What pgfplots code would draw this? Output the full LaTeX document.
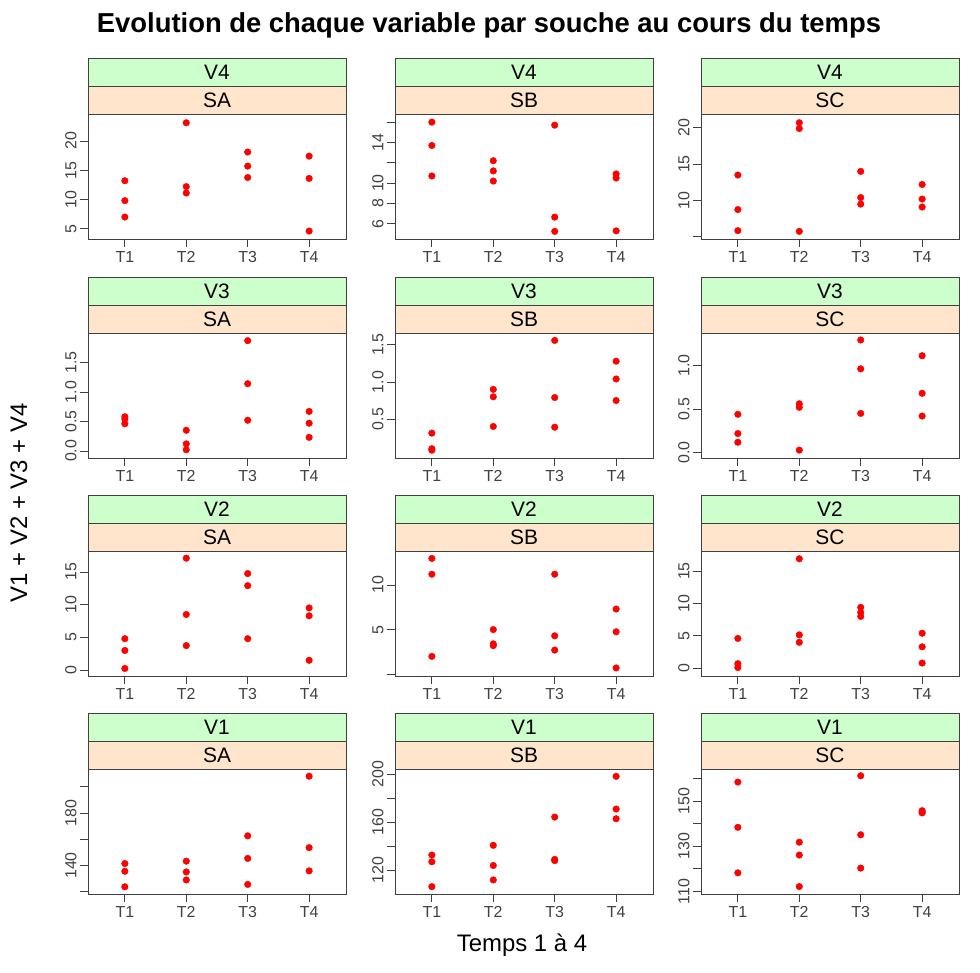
\documentclass[border=0pt]{standalone}
\usepackage{fontspec}
\setmainfont{Liberation Sans}
\usepackage{pgfplots}
\pgfplotsset{compat=1.18}
\definecolor{stripA}{HTML}{CCFFCC}
\definecolor{stripB}{HTML}{FFE5CC}
\definecolor{frame}{HTML}{404040}
\pgfplotsset{pan/.style={
  scale only axis, width=258bp, height=125bp, anchor=south west,
  xmin=0.4, xmax=4.6, xtick={1,2,3,4}, xticklabels={T1,T2,T3,T4},
  tick align=outside, xtick pos=bottom, ytick pos=left,
  major tick length=8bp,
  axis line style={frame, line width=0.8bp},
  every tick/.style={frame, line width=0.8bp},
  ticklabel style={font=\fontsize{16}{16}\selectfont, text=black!75},
  xticklabel style={yshift=-1bp},
  yticklabel style={rotate=90, anchor=south},
  /pgf/number format/assume math mode=true,
  clip=false,
}}
\pgfplotsset{pts/.style={only marks, mark=*, mark size=3.3bp, color=red, mark options={fill=red, draw=red}}}
\newcommand{\strips}[4]{%
  \draw[frame, line width=0.8bp, fill=stripB] (#1bp,#2bp) rectangle ++(258bp,28bp);
  \draw[frame, line width=0.8bp, fill=stripA] (#1bp,#2bp) ++(0,28bp) rectangle ++(258bp,28bp);
  \node[font=\fontsize{21}{21}\selectfont, inner sep=0pt] at (#1bp+129bp,#2bp+14bp) {#4};
  \node[font=\fontsize{21}{21}\selectfont, inner sep=0pt] at (#1bp+129bp,#2bp+42bp) {#3};
}
\begin{document}
\begin{tikzpicture}
\path[use as bounding box] (0,0) rectangle (980bp,973bp);
% Title and labels
\node[font=\fontsize{27.5}{27.5}\selectfont\bfseries] at (489bp,948bp) {Evolution de chaque variable par souche au cours du temps};
\node[font=\fontsize{24}{24}\selectfont] at (522bp,28bp) {Temps 1 à 4};
\node[font=\fontsize{24}{24}\selectfont, rotate=90] at (19bp,470bp) {V1 + V2 + V3 + V4};

% ---------- Row 1: V4 ----------
\begin{axis}[pan, at={(88bp,734bp)}, ymin=3.25, ymax=24.6, ytick={5,10,15,20}, yticklabels={5,10,15,20}]
\addplot[pts] coordinates {(1,13.2)(1,9.8)(1,7.0)(2,23.1)(2,12.2)(2,11.1)(3,18.1)(3,15.7)(3,13.75)(4,17.4)(4,13.6)(4,4.6)};
\end{axis}
\strips{88}{859}{V4}{SA}
\begin{axis}[pan, at={(395bp,734bp)}, ymin=4.5, ymax=16.8, ytick={6,8,10,12,14,16}, yticklabels={6,8,10,,14,}]
\addplot[pts] coordinates {(1,16.0)(1,13.7)(1,10.7)(2,12.2)(2,11.2)(2,10.2)(3,15.7)(3,6.65)(3,5.25)(4,10.9)(4,10.5)(4,5.3)};
\end{axis}
\strips{395}{859}{V4}{SB}
\begin{axis}[pan, at={(701bp,734bp)}, ymin=4.7, ymax=21.9, ytick={5,10,15,20}, yticklabels={,10,15,20}]
\addplot[pts] coordinates {(1,13.5)(1,8.75)(1,5.85)(2,20.7)(2,19.9)(2,5.75)(3,14.0)(3,10.4)(3,9.5)(4,12.2)(4,10.2)(4,9.1)};
\end{axis}
\strips{701}{859}{V4}{SC}

% ---------- Row 2: V3 ----------
\begin{axis}[pan, at={(88bp,515bp)}, ymin=-0.12, ymax=2.0, ytick={0,0.5,1,1.5}, yticklabels={0.0,0.5,1.0,1.5}]
\addplot[pts] coordinates {(1,0.58)(1,0.54)(1,0.46)(2,0.35)(2,0.12)(2,0.02)(3,1.87)(3,1.14)(3,0.52)(4,0.67)(4,0.47)(4,0.23)};
\end{axis}
\strips{88}{640}{V3}{SA}
\begin{axis}[pan, at={(395bp,515bp)}, ymin=-0.025, ymax=1.66, ytick={0.5,1,1.5}, yticklabels={0.5,1.0,1.5}]
\addplot[pts] coordinates {(1,0.31)(1,0.10)(1,0.08)(2,0.90)(2,0.80)(2,0.40)(3,1.56)(3,0.79)(3,0.39)(4,1.28)(4,1.04)(4,0.75)};
\end{axis}
\strips{395}{640}{V3}{SB}
\begin{axis}[pan, at={(701bp,515bp)}, ymin=-0.06, ymax=1.37, ytick={0,0.5,1}, yticklabels={0.0,0.5,1.0}]
\addplot[pts] coordinates {(1,0.44)(1,0.22)(1,0.12)(2,0.56)(2,0.52)(2,0.03)(3,1.29)(3,0.96)(3,0.45)(4,1.11)(4,0.68)(4,0.42)};
\end{axis}
\strips{701}{640}{V3}{SC}

% ---------- Row 3: V2 ----------
\begin{axis}[pan, at={(88bp,297bp)}, ymin=-0.9, ymax=18.2, ytick={0,5,10,15}, yticklabels={0,5,10,15}]
\addplot[pts] coordinates {(1,4.8)(1,3.0)(1,0.25)(2,17.1)(2,8.5)(2,3.75)(3,14.75)(3,12.9)(3,4.8)(4,9.5)(4,8.3)(4,1.5)};
\end{axis}
\strips{88}{422}{V2}{SA}
\begin{axis}[pan, at={(395bp,297bp)}, ymin=-0.2, ymax=13.8, ytick={0,5,10}, yticklabels={,5,10}]
\addplot[pts] coordinates {(1,12.97)(1,11.2)(1,2.0)(2,5.0)(2,3.4)(2,3.2)(3,11.2)(3,4.3)(3,2.7)(4,7.3)(4,4.75)(4,0.7)};
\end{axis}
\strips{395}{422}{V2}{SB}
\begin{axis}[pan, at={(701bp,297bp)}, ymin=-1.2, ymax=18.1, ytick={0,5,10,15}, yticklabels={0,5,10,15}]
\addplot[pts] coordinates {(1,4.6)(1,0.7)(1,0.1)(2,16.9)(2,5.15)(2,4.0)(3,9.4)(3,8.6)(3,8.0)(4,5.4)(4,3.3)(4,0.8)};
\end{axis}
\strips{701}{422}{V2}{SC}

% ---------- Row 4: V1 ----------
\begin{axis}[pan, at={(88bp,79bp)}, ymin=118.3, ymax=213.5, ytick={120,140,160,180,200}, yticklabels={,140,,180,}]
\addplot[pts] coordinates {(1,141.5)(1,135.6)(1,123.8)(2,143.3)(2,135.1)(2,129.0)(3,162.6)(3,145.4)(3,125.6)(4,208.0)(4,153.6)(4,135.9)};
\end{axis}
\strips{88}{204}{V1}{SA}
\begin{axis}[pan, at={(395bp,79bp)}, ymin=100.2, ymax=204.2, ytick={120,140,160,180,200}, yticklabels={120,,160,,200}]
\addplot[pts] coordinates {(1,132.6)(1,127)(1,106.3)(2,140.7)(2,123.9)(2,111.9)(3,164.2)(3,129)(3,128)(4,198.1)(4,170.9)(4,162.8)};
\end{axis}
\strips{395}{204}{V1}{SB}
\begin{axis}[pan, at={(701bp,79bp)}, ymin=108.8, ymax=164.3, ytick={110,120,130,140,150,160}, yticklabels={110,,130,,150,}]
\addplot[pts] coordinates {(1,158.5)(1,138.4)(1,118.2)(2,131.8)(2,126.1)(2,112.1)(3,161.3)(3,135.1)(3,120.3)(4,145.8)(4,145.2)(4,144.8)};
\end{axis}
\strips{701}{204}{V1}{SC}
\end{tikzpicture}
\end{document}
